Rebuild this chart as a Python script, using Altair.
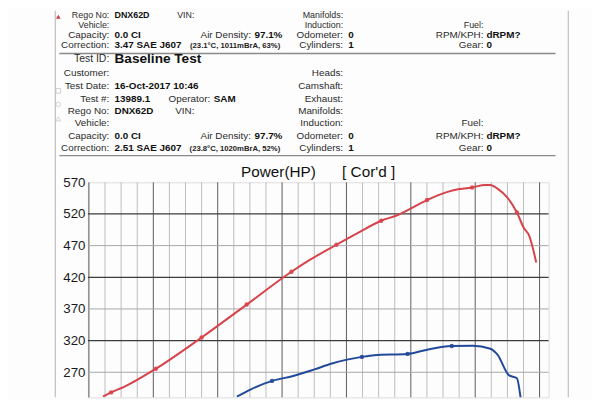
import altair as alt
import pandas as pd

# ---------------- values ----------------
red_rpm = [2109, 2172, 2273, 2520, 2875, 3225, 3573, 3696, 3922, 4079, 4270, 4394,
           4626, 4762, 4831, 4976, 5077, 5117, 5173, 5255, 5324, 5378, 5419, 5474]
red_hp = [231.5, 238.2, 247, 275.6, 325, 376.9, 428.7, 445, 471.4, 489, 509.3, 518,
          542, 553.3, 557.5, 561.7, 565.8, 565.8, 560, 544.6, 522.2, 497.9, 485.9, 443.3]
red_marker_rpm = [2172, 2520, 2875, 3225, 3573, 3922, 4270, 4626, 4976, 5324]
red_marker_hp = [238.2, 275.6, 325, 376.9, 428.7, 471.4, 509.3, 542, 561.7, 522.2]

blue_rpm = [3149, 3258, 3422, 3586, 3751, 3887, 4120, 4216, 4475, 4626, 4818, 4982,
            5118, 5173, 5261, 5324, 5351, 5370]
blue_hp = [231.5, 243, 256.4, 264, 274.5, 283.9, 294.3, 297, 299, 305.7, 311.4, 312,
           307.2, 297.9, 265.5, 260.5, 232, 200]
blue_marker_rpm = [3422, 4120, 4475, 4818]
blue_marker_hp = [256.4, 294.3, 299, 311.4]

y_tick_values = [270, 320, 370, 420, 470, 520, 570]
y_major_grid = [320, 420, 520]
y_minor_grid = [270, 370, 470]
x_major_grid = [2000, 2500, 3000, 3500, 4000, 4500, 5000, 5500]
x_minor_grid = [2125, 2250, 2375, 2625, 2750, 2875, 3125, 3250, 3375, 3625, 3750, 3875,
                4125, 4250, 4375, 4625, 4750, 4875, 5125, 5250, 5375]

chart_title = "Power(HP)"
chart_subtitle = "[ Cor'd ]"

row_labels = ["Test ID:", "Customer:", "Test Date:", "Test #:", "Rego No:", "Vehicle:",
              "Capacity:", "Correction:"]
run1_values = ["", "", "", "", "DNX62D", "", "0.0 CI", "3.47 SAE J607"]
run2_values = ["Baseline Test", "", "16-Oct-2017 10:46", "13989.1", "DNX62D", "",
               "0.0 CI", "2.51 SAE J607"]
colb_labels = ["", "", "", "Operator:", "VIN:", "", "Air Density:", ""]
run1_colb_values = ["", "", "", "", "", "", "97.1%", ""]
run2_colb_values = ["", "", "", "SAM", "", "", "97.7%", ""]
run1_conditions = "(23.1°C, 1011mBrA, 63%)"
run2_conditions = "(23.8°C, 1020mBrA, 52%)"
colc_labels = ["", "Heads:", "Camshaft:", "Exhaust:", "Manifolds:", "Induction:",
               "Odometer:", "Cylinders:"]
colc_values = ["", "", "", "", "", "", "0", "1"]
cold_labels = ["", "", "", "", "", "Fuel:", "RPM/KPH:", "Gear:"]
cold_values = ["", "", "", "", "", "", "dRPM?", "0"]
marker_shapes = ["square", "circle", "triangle-up"]

# ---------------- layout (page pixels) ----------------
FONT = "Liberation Sans"
PLOT_LEFT, PLOT_TOP = 89, 182
PLOT_W, PLOT_H = 467, 218
X_DOMAIN = [1992, 5570]
Y_DOMAIN = [230.4, 570]
RED = "#d8434b"
BLUE = "#22499a"

def rx(px):
    return px - PLOT_LEFT

def ry(py):
    return py - PLOT_TOP

row_offset = [0, 14.4, 27.2, 39.8, 52.4, 65.0, 77.6, 90.2]
block_base = {1: 57.3 - 103.6, 2: 57.3}
first_row = {1: 4, 2: 0}
# the first block is cut by the top of the page: its rows are nudged down / shrunk to stay legible
block1_row_y = {4: 12.8, 5: 22.4, 6: 32.3, 7: 43.3}
block1_row_size = {4: 9, 5: 9, 6: 10, 7: 10}
sep_offset = 97.7
marker_offset = [32, 45.7, 60.4]
COL_A_LABEL, COL_A_VALUE = 110.7, 116
COL_B_RIGHT = [0, 0, 0, 213, 197, 0, 254.3, 0]
COND_RIGHT = 284
COL_C_LABEL, COL_C_VALUE = 347.7, 353
COL_D_LABEL, COL_D_VALUE = 490, 493

lab_r, val_l, small_r = [], [], []
values_by_run = {1: (run1_values, run1_colb_values, run1_conditions),
                 2: (run2_values, run2_colb_values, run2_conditions)}
for run in (1, 2):
    vals_a, vals_b, cond = values_by_run[run]
    for r in range(first_row[run], 8):
        if run == 1:
            y = ry(block1_row_y[r])
            fs = block1_row_size[r]
        else:
            y = ry(block_base[run] + row_offset[r])
            fs = 10
        big = r == 0
        lab_r.append((row_labels[r], rx(COL_A_LABEL), y, 10.6 if big else fs))
        if vals_a[r]:
            val_l.append((vals_a[r], rx(COL_A_VALUE), y, 13.8 if big else fs))
        if colb_labels[r]:
            lab_r.append((colb_labels[r], rx(COL_B_RIGHT[r]), y, fs))
        if vals_b[r]:
            val_l.append((vals_b[r], rx(COL_B_RIGHT[r] + 3.5), y, fs))
        if r == 7:
            small_r.append((cond, rx(COND_RIGHT), y + 0.8, 7.8))
        if colc_labels[r]:
            lab_r.append((colc_labels[r], rx(COL_C_LABEL), y, fs))
        if colc_values[r]:
            val_l.append((colc_values[r], rx(COL_C_VALUE), y, fs))
        if cold_labels[r]:
            lab_r.append((cold_labels[r], rx(COL_D_LABEL), y, fs))
        if cold_values[r]:
            val_l.append((cold_values[r], rx(COL_D_VALUE), y, fs))

cols = ["text", "x", "y", "size"]
lab_df = pd.DataFrame(lab_r, columns=cols)
val_df = pd.DataFrame(val_l, columns=cols)
small_df = pd.DataFrame(small_r, columns=cols)
title_df = pd.DataFrame([(chart_title, rx(244.3), ry(171.7), 15.5),
                         (chart_subtitle, rx(346.7), ry(171.7), 15.5)], columns=cols)

sep_df = pd.DataFrame({"y": [ry(block_base[b] + sep_offset) for b in (1, 2)],
                       "x": rx(60), "x2": rx(563)})
border_df = pd.DataFrame({"x": [rx(56), rx(576)], "y": -(PLOT_TOP - 8), "y2": PLOT_H})
mk_rows = []
for run in (1, 2):
    for i, s in enumerate(marker_shapes):
        mk_rows.append((run, s, rx(59), ry(block_base[run] + marker_offset[i])))
mk_df = pd.DataFrame(mk_rows, columns=["run", "shape", "x", "y"])

# ---------------- encodings ----------------
xs = alt.Scale(domain=X_DOMAIN, nice=False, zero=False)
ys = alt.Scale(domain=Y_DOMAIN, nice=False, zero=False)
y_axis = alt.Axis(values=y_tick_values, ticks=False, domain=False, grid=False,
                  labelFontSize=13.5, labelColor="#1a1a1a", labelPadding=3,
                  labelFont=FONT, title=None)
X = alt.X("rpm:Q", scale=xs, axis=None)
Y = alt.Y("hp:Q", scale=ys, axis=y_axis)

def text_layer(df, align, weight, color):
    return alt.Chart(df).mark_text(align=align, baseline="middle", fontWeight=weight,
                                   color=color, font=FONT).encode(
        x=alt.X("x:Q", scale=None, axis=None),
        y=alt.Y("y:Q", scale=None, axis=None),
        text="text:N",
        size=alt.Size("size:Q", scale=None, legend=None),
    )

vminor = alt.Chart(pd.DataFrame({"rpm": x_minor_grid})).mark_rule(
    color="#b4b4b4", strokeWidth=0.9).encode(x=X)
vmajor = alt.Chart(pd.DataFrame({"rpm": x_major_grid})).mark_rule(
    color="#5a5a5a", strokeWidth=1).encode(x=X)
hminor = alt.Chart(pd.DataFrame({"hp": y_minor_grid})).mark_rule(
    color="#a8a8a8", strokeWidth=1).encode(y=Y)
hmajor = alt.Chart(pd.DataFrame({"hp": y_major_grid})).mark_rule(
    color="#3c3c3c", strokeWidth=1.2).encode(y=Y)

line_df = pd.DataFrame({
    "rpm": red_rpm + blue_rpm,
    "hp": red_hp + blue_hp,
    "run": ["red"] * len(red_rpm) + ["blue"] * len(blue_rpm),
})
run_color = alt.Color("run:N", scale=alt.Scale(domain=["red", "blue"], range=[RED, BLUE]),
                      legend=None)
lines = alt.Chart(line_df).mark_line(clip=True, strokeWidth=2, interpolate="monotone").encode(
    x=X, y=Y, color=run_color, detail="run:N")

mark_df = pd.DataFrame({
    "rpm": red_marker_rpm + blue_marker_rpm,
    "hp": red_marker_hp + blue_marker_hp,
    "run": ["red"] * len(red_marker_rpm) + ["blue"] * len(blue_marker_rpm),
})
points = alt.Chart(mark_df).mark_circle(size=20, opacity=0.9, clip=True).encode(
    x=X, y=Y, color=alt.Color("run:N", scale=alt.Scale(domain=["red", "blue"],
                                                       range=["#c9343c", "#5f8fd2"]),
                              legend=None))

borders = alt.Chart(border_df).mark_rule(color="#c4c4c4", strokeWidth=1.3).encode(
    x=alt.X("x:Q", scale=None, axis=None), y=alt.Y("y:Q", scale=None, axis=None), y2="y2:Q")
seps = alt.Chart(sep_df).mark_rule(color="#8a8a8a", strokeWidth=1.4).encode(
    x=alt.X("x:Q", scale=None, axis=None), x2="x2:Q", y=alt.Y("y:Q", scale=None, axis=None))
mk1 = alt.Chart(mk_df[mk_df.run == 1]).mark_point(filled=True, size=22, color="#d23a44",
                                                  opacity=1).encode(
    x=alt.X("x:Q", scale=None, axis=None), y=alt.Y("y:Q", scale=None, axis=None),
    shape=alt.Shape("shape:N", scale=None))
mk2 = alt.Chart(mk_df[mk_df.run == 2]).mark_point(filled=False, size=22, color="#c0c0c0",
                                                  strokeWidth=1).encode(
    x=alt.X("x:Q", scale=None, axis=None), y=alt.Y("y:Q", scale=None, axis=None),
    shape=alt.Shape("shape:N", scale=None))

chart = alt.layer(
    vminor, vmajor, hminor, hmajor, lines, points,
    borders, seps, mk1, mk2,
    text_layer(lab_df, "right", "normal", "#2b2b2b"),
    text_layer(val_df, "left", "bold", "#111111"),
    text_layer(small_df, "right", "bold", "#222222"),
    text_layer(title_df, "left", "normal", "#111111"),
).properties(
    width=PLOT_W,
    height=PLOT_H,
    padding={"left": PLOT_LEFT - 8, "top": PLOT_TOP - 8,
             "right": 592 - (PLOT_LEFT - 8) - PLOT_W, "bottom": 0},
    autosize=alt.AutoSizeParams(type="none"),
    background="#fdfdfd",
).configure_view(
    stroke="#333333", strokeWidth=2
).configure(font=FONT)

chart.save("out.html", embed_options={"renderer": "svg", "actions": False})
